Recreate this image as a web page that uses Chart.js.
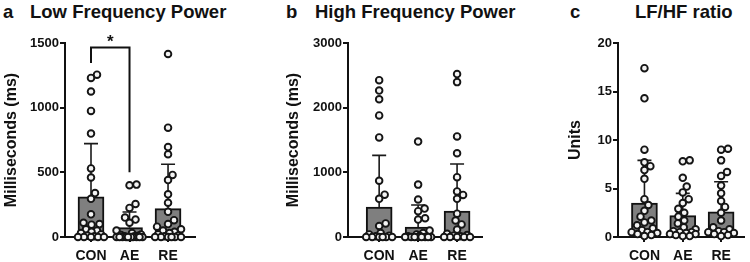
<!DOCTYPE html>
<html>
<head>
<meta charset="utf-8">
<script src="https://cdn.jsdelivr.net/npm/chart.js@4.4.1/dist/chart.umd.min.js"></script>
<style>
  body { margin: 0; background: #fff; width: 750px; height: 262px; position: relative; overflow: hidden;
         font-family: "Liberation Sans", Arial, sans-serif; }
  canvas { position: absolute; top: 0; }
  .t { position: absolute; top: 2px; font-weight: bold; font-size: 18.5px; line-height: 19px; color: #111; white-space: nowrap; }
</style>
</head>
<body>
<div class="t" style="left:3px">a</div>
<div class="t" style="left:30px">Low Frequency Power</div>
<div class="t" style="left:286px">b</div>
<div class="t" style="left:315px">High Frequency Power</div>
<div class="t" style="left:570px">c</div>
<div class="t" style="left:635px">LF/HF ratio</div>

<canvas id="lf" width="250" height="262" style="left:0"></canvas>
<canvas id="hf" width="250" height="262" style="left:250px"></canvas>
<canvas id="ratio" width="250" height="262" style="left:500px"></canvas>

<script>
const categories = ['CON', 'AE', 'RE'];

// low frequency power (ms)
const lfCon = [1255, 1230, 1125, 975, 800, 530, 460, 340, 295, 175, 110, 100, 95, 60, 50, 40, 30, 20, 10, 5, 0, 0, 0, 0, 0];
const lfAe = [405, 400, 255, 225, 150, 135, 110, 50, 30, 20, 15, 10, 5, 5, 0, 0, 0, 0, 0, 0, 0, 0, 0, 0, 0];
const lfRe = [1415, 845, 695, 640, 480, 440, 330, 265, 195, 130, 100, 80, 60, 50, 40, 30, 20, 10, 5, 0, 0, 0, 0, 0, 0];
const lfMean = [310, 72, 220];
const lfSd = [412, 121, 342];
const lfTicks = [0, 500, 1000, 1500];

// high frequency power (ms)
const hfCon = [2425, 2265, 2130, 1880, 1540, 870, 655, 590, 210, 170, 60, 40, 20, 10, 0, 0, 0, 0, 0, 0];
const hfAe = [1475, 810, 580, 440, 400, 290, 270, 100, 60, 40, 20, 10, 0, 0, 0, 0, 0, 0, 0, 0];
const hfRe = [2520, 2395, 1555, 1295, 925, 705, 650, 590, 360, 255, 195, 115, 50, 30, 20, 10, 0, 0, 0, 0, 0];
const hfMean = [462, 154, 400];
const hfSd = [800, 340, 728];
const hfTicks = [0, 1000, 2000, 3000];

// LF/HF ratio (units)
const ratioCon = [17.4, 14.3, 9.0, 7.7, 7.3, 6.9, 6.0, 3.9, 3.3, 2.7, 2.1, 1.7, 1.5, 1.2, 0.9, 0.7, 0.5, 0.5, 0.4, 0.3, 0.2, 0.1];
const ratioAe = [7.9, 7.8, 6.1, 5.2, 4.6, 3.9, 3.5, 2.9, 2.5, 2.1, 1.7, 1.4, 1.0, 0.8, 0.6, 0.5, 0.5, 0.4, 0.3, 0.3, 0.2, 0.1, 0.1];
const ratioRe = [9.1, 9.0, 7.9, 6.7, 6.3, 5.3, 4.5, 3.7, 3.1, 2.5, 1.7, 1.0, 0.8, 0.6, 0.5, 0.5, 0.4, 0.3, 0.2, 0.1];
const ratioMean = [3.5, 2.2, 2.6];
const ratioSd = [4.4, 2.3, 3.1];
const ratioTicks = [0, 5, 10, 15, 20];

// significance bracket for panel a: [from, to, top, left leg end, right leg end]
const lfBracket = [0, 1, 1465, 1345, 500];
const lfBracketLabel = '*';

Chart.defaults.font.family = "'Liberation Sans', Arial, sans-serif";
Chart.defaults.color = '#111';

const TOP = 43, BOTTOM = 237, PLOT_H = BOTTOM - TOP;

// spread points sideways so they don't sit on top of each other
function swarm(values, pxPerY, pxPerX) {
  const D = 6.8, placed = [], out = new Array(values.length);
  const cands = [0];
  for (let k = 1; k * 0.5 <= 13; k++) cands.push(k * 0.5, -k * 0.5);
  const order = values.map((v, i) => i).sort((a, b) => values[a] - values[b]);
  order.forEach(i => {
    const y = values[i] * pxPerY;
    let best = 0, bestD = -1;
    for (const c of cands) {
      let md = Infinity;
      for (const p of placed) md = Math.min(md, Math.hypot(p.x - c, p.y - y));
      if (md >= D) { best = c; break; }
      if (md > bestD) { bestD = md; best = c; }
    }
    placed.push({ x: best, y });
    out[i] = best / pxPerX;
  });
  return out;
}

const errorBars = {
  id: 'errorBars',
  afterDatasetDraw(chart, args, opts) {
    if (args.index !== 0) return;
    const { ctx, scales: { x, y } } = chart;
    ctx.save();
    ctx.strokeStyle = '#1a1a1a';
    ctx.lineWidth = 1.6;
    opts.means.forEach((m, i) => {
      const px = x.getPixelForValue(i);
      const y0 = y.getPixelForValue(m), y1 = y.getPixelForValue(m + opts.sds[i]);
      ctx.beginPath();
      ctx.moveTo(px, y0); ctx.lineTo(px, y1);
      ctx.moveTo(px - 7, y1); ctx.lineTo(px + 7, y1);
      ctx.stroke();
    });
    ctx.restore();
  }
};

const bracketPlugin = {
  id: 'bracket',
  afterDraw(chart, args, opts) {
    if (!opts.bracket) return;
    const { ctx, scales: { x, y } } = chart;
    const [from, to, top, l, r] = opts.bracket;
    const x0 = x.getPixelForValue(from), x1 = x.getPixelForValue(to);
    const yt = y.getPixelForValue(top);
    ctx.save();
    ctx.strokeStyle = '#111';
    ctx.lineWidth = 2;
    ctx.beginPath();
    ctx.moveTo(x0, y.getPixelForValue(l));
    ctx.lineTo(x0, yt);
    ctx.lineTo(x1, yt);
    ctx.lineTo(x1, y.getPixelForValue(r));
    ctx.stroke();
    ctx.fillStyle = '#111';
    ctx.font = "bold 17px 'Liberation Sans', Arial, sans-serif";
    ctx.textAlign = 'center';
    ctx.textBaseline = 'alphabetic';
    ctx.fillText(opts.label, (x0 + x1) / 2, yt - 0.5);
    ctx.restore();
  }
};

function panel(id, groups, means, sds, ticks, yTitle, geo, bracket) {
  const yMax = ticks[ticks.length - 1];
  const unit = (geo.right - geo.axis) / (geo.xMax - geo.xMin);
  const pts = [];
  groups.forEach((vals, gi) => {
    const offs = swarm(vals, PLOT_H / yMax, unit);
    vals.forEach((v, k) => pts.push({ x: gi + offs[k], y: v }));
  });

  new Chart(document.getElementById(id), {
    type: 'bar',
    data: {
      datasets: [
        {
          type: 'bar',
          data: means.map((m, i) => ({ x: i, y: m })),
          backgroundColor: '#7f7f7f',
          borderColor: '#111',
          borderWidth: 2,
          borderSkipped: false,
          barThickness: 26,
          order: 2
        },
        {
          type: 'scatter',
          data: pts,
          pointRadius: 3.3,
          pointBackgroundColor: '#f4f4f4',
          pointBorderColor: '#151515',
          pointBorderWidth: 1.9,
          clip: false,
          order: 0
        }
      ]
    },
    options: {
      responsive: false,
      animation: false,
      events: [],
      layout: { padding: { top: TOP, bottom: 0, left: 0, right: 250 - geo.right } },
      plugins: {
        legend: { display: false },
        tooltip: { enabled: false },
        errorBars: { means, sds },
        bracket: { bracket, label: lfBracketLabel }
      },
      scales: {
        x: {
          type: 'linear',
          offset: false,
          bounds: 'ticks',
          min: geo.xMin,
          max: geo.xMax,
          afterFit: s => { s.height = 262 - BOTTOM; },
          afterBuildTicks: s => { s.ticks = categories.map((c, i) => ({ value: i })); },
          ticks: {
            callback: v => categories[v],
            font: { size: 14, weight: 'bold' },
            color: '#111',
            padding: 6,
            maxRotation: 0,
            autoSkip: false
          },
          grid: { display: true, drawOnChartArea: false, drawTicks: true, tickLength: 5, color: '#111', lineWidth: 2, offset: false },
          border: { display: true, color: '#111', width: 2 }
        },
        y: {
          min: 0,
          max: yMax,
          afterFit: s => { s.width = geo.axis; },
          afterBuildTicks: s => { s.ticks = ticks.map(v => ({ value: v })); },
          ticks: {
            callback: v => String(v),
            font: { size: 13, weight: 'bold' },
            color: '#111',
            padding: 1
          },
          grid: { display: true, drawOnChartArea: false, drawTicks: true, tickLength: 5, color: '#111', lineWidth: 2 },
          border: { display: true, color: '#111', width: 2 },
          title: {
            display: true,
            text: yTitle,
            font: { size: 16, weight: 'bold' },
            color: '#111',
            padding: { top: geo.titlePad, bottom: 0 }
          }
        }
      }
    },
    plugins: [errorBars, bracketPlugin]
  });
}

panel('lf', [lfCon, lfAe, lfRe], lfMean, lfSd, lfTicks, 'Milliseconds (ms)',
  { axis: 65, right: 195, xMin: -0.675, xMax: 2.7, titlePad: 1.5 }, lfBracket);
panel('hf', [hfCon, hfAe, hfRe], hfMean, hfSd, hfTicks, 'Milliseconds (ms)',
  { axis: 98, right: 232, xMin: -0.8, xMax: 2.64, titlePad: 33.5 }, null);
panel('ratio', [ratioCon, ratioAe, ratioRe], ratioMean, ratioSd, ratioTicks, 'Units',
  { axis: 118, right: 246, xMin: -0.69, xMax: 2.6, titlePad: 65.5 }, null);
</script>
</body>
</html>
